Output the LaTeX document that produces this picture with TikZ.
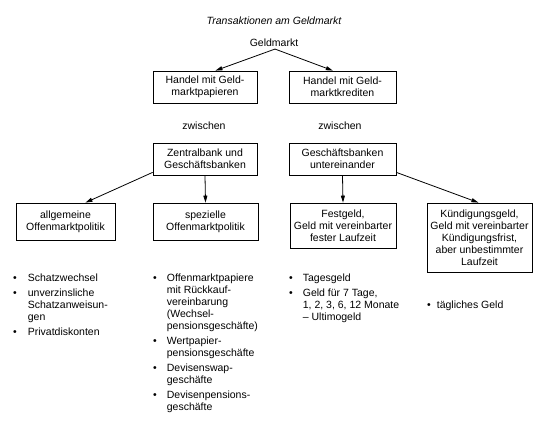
\documentclass[tikz,border=0pt]{standalone}
\usepackage{fontspec}
\setmainfont{Liberation Sans}
\usetikzlibrary{arrows.meta,calc}
\newcommand{\bl}{\textbullet}
\begin{document}
\begin{tikzpicture}[x=1pt,y=-1pt,
  every node/.style={font=\fontsize{10.5}{12}\selectfont, inner sep=0pt},
  box/.style={draw, line width=0.8pt, align=center},
  conn/.style={line width=0.8pt, -{Triangle[length=7pt,width=4pt]}},
  lst/.style={anchor=base west, align=left}]
\useasboundingbox (0,0) rectangle (547,434);
\node (title) at (274,21) {\itshape Transaktionen am Geldmarkt};
\node (gm) at (274,43) {Geldmarkt};
\node[box, minimum width=104pt, minimum height=32pt] (b1) at (205,87) {Handel mit Geld-\\marktpapieren};
\node[box, minimum width=107pt, minimum height=32pt] (b2) at (342.5,87) {Handel mit Geld-\\marktkrediten};
\node (z1) at (204,126) {zwischen};
\node (z2) at (340,126) {zwischen};
\node[box, minimum width=104pt, minimum height=32pt] (b3) at (205,159) {Zentralbank und\\Geschäftsbanken};
\node[box, minimum width=107pt, minimum height=32pt] (b4) at (342.5,159) {Geschäftsbanken\\untereinander};
\node[box, minimum width=99pt, minimum height=37pt] (b5) at (65.5,221.5) {allgemeine\\Offenmarktpolitik};
\node[box, minimum width=105pt, minimum height=37pt] (b6) at (205.5,221.5) {spezielle\\Offenmarktpolitik};
\node[box, minimum width=106pt, minimum height=45pt] (b7) at (343,225.5) {Festgeld,\\Geld mit vereinbarter\\fester Laufzeit};
\node[box, minimum width=105pt, minimum height=69pt] (b8) at (479.5,237.5) {Kündigungsgeld,\\Geld mit vereinbarter\\Kündigungsfrist,\\aber unbestimmter\\Laufzeit};
\draw[conn] ($(gm.south)+(1,2)$) -- ($(b1.north west)!0.6!(b1.north east)$);
\draw[conn] ($(gm.south)+(1,2)$) -- ($(b2.north west)!0.41!(b2.north east)$);
\draw[conn] ($(b3.south west)+(0,-3)$) -- ($(b5.north west)!0.7!(b5.north east)$);
\draw[conn] (b3.south) -- (b6.north);
\draw[conn] (b4.south) -- (b7.north);
\draw[conn] ($(b4.south east)+(0,-3)$) -- ($(b8.north west)!0.49!(b8.north east)$);
\node[lst] (l1) at (13,281) {\begin{tabular}[t]{@{}l@{\hspace{11pt}}l@{}}
\bl & Schatzwechsel\\[3pt]
\bl & unverzinsliche\\
 & Schatzanweisun-\\
 & gen\\[3pt]
\bl & Privatdiskonten
\end{tabular}};
\node[lst] (l2) at (153,281) {\begin{tabular}[t]{@{}l@{\hspace{10pt}}l@{}}
\bl & Offenmarktpapiere\\
 & mit Rückkauf-\\
 & vereinbarung\\
 & (Wechsel-\\
 & pensionsgeschäfte)\\[3pt]
\bl & Wertpapier-\\
 & pensionsgeschäfte\\[3pt]
\bl & Devisenswap-\\
 & geschäfte\\[3pt]
\bl & Devisenpensions-\\
 & geschäfte
\end{tabular}};
\node[lst] (l3) at (289,281) {\begin{tabular}[t]{@{}l@{\hspace{10pt}}l@{}}
\bl & Tagesgeld\\[3pt]
\bl & Geld für 7 Tage,\\
 & 1, 2, 3, 6, 12 Monate\\
 & -- Ultimogeld
\end{tabular}};
\node[lst] (l4) at (427,308) {\begin{tabular}[t]{@{}l@{\hspace{6pt}}l@{}}
\bl & tägliches Geld
\end{tabular}};
\end{tikzpicture}
\end{document}
